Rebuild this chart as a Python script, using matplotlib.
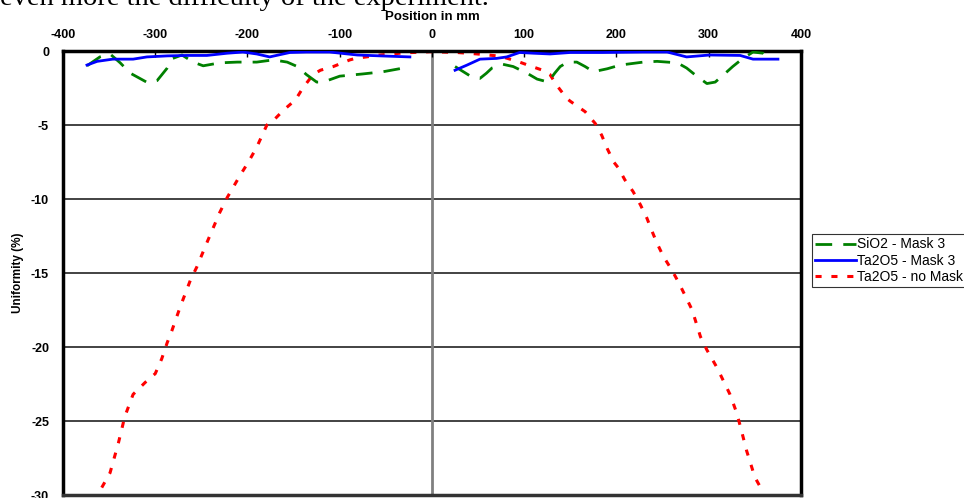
import numpy as np
import matplotlib.pyplot as plt

# SiO2 - Mask 3 (left half, then right half)
sio2_x_left = [-374, -360, -349, -338, -327, -308, -298, -287, -281, -271, -259, -248, -230, -211,
               -190, -172, -157, -146, -136, -125, -118, -100, -75, -53, -31]
sio2_y_left = [-1.0, -0.4, -0.2, -0.8, -1.5, -2.15, -2.0, -1.15, -0.5, -0.27, -0.75, -1.0, -0.8, -0.75,
               -0.75, -0.6, -0.75, -1.05, -1.6, -2.1, -2.1, -1.7, -1.55, -1.4, -1.15]
sio2_x_right = [25, 34, 43, 52, 59, 65, 77, 88, 103, 114, 126, 133, 139, 147, 157, 166, 175, 190,
                204, 229, 244, 266, 276, 287, 298, 307, 318, 326, 337, 348, 359, 366]
sio2_y_right = [-1.05, -1.4, -1.75, -1.85, -1.5, -1.15, -0.9, -1.05, -1.5, -1.9, -2.1, -1.5, -1.05,
                -0.75, -0.75, -1.05, -1.4, -1.2, -0.95, -0.75, -0.7, -0.8, -1.15, -1.7, -2.2, -2.1,
                -1.5, -1.05, -0.5, -0.07, -0.15, -0.5]

# Ta2O5 - Mask 3
ta_x_left = [-374, -363, -346, -324, -309, -287, -266, -244, -222, -205, -190, -176, -154, -136,
             -111, -81, -56, -24]
ta_y_left = [-0.95, -0.7, -0.55, -0.55, -0.4, -0.33, -0.3, -0.3, -0.15, -0.07, -0.2, -0.4, -0.1,
             -0.07, -0.07, -0.27, -0.33, -0.4]
ta_x_right = [25, 38, 52, 70, 81, 95, 110, 128, 150, 185, 229, 255, 276, 301, 334, 348, 375]
ta_y_right = [-1.3, -0.95, -0.55, -0.5, -0.4, -0.1, -0.15, -0.2, -0.1, -0.1, -0.07, -0.07, -0.4,
              -0.27, -0.3, -0.55, -0.55]

# Ta2O5 - no Mask
nomask_x = [-358, -349, -340, -333, -324, -311, -300, -293, -287, -282, -273, -262, -255, -243,
            -230, -222, -208, -199, -190, -179, -172, -161, -148, -140, -129, -121, -107, -89,
            -83, -56, -31, -2, 27, 49, 74, 95, 106, 120, 128, 135, 146, 150, 166, 177, 184, 190,
            197, 202, 209, 218, 226, 233, 238, 244, 251, 260, 267, 275, 282, 291, 298, 309, 323,
            330, 334, 341, 350, 358]
nomask_y = [-29.5, -28.5, -26.5, -24.7, -23.2, -22.4, -21.8, -20.8, -19.7, -18.9, -17.3, -15.5,
            -14.6, -12.8, -10.9, -9.9, -8.4, -7.5, -6.5, -5.0, -4.7, -4.0, -3.3, -2.5, -1.6, -1.3,
            -1.05, -0.6, -0.5, -0.27, -0.13, -0.05, -0.1, -0.2, -0.35, -0.75, -1.0, -1.3, -1.6,
            -2.3, -3.2, -3.4, -4.1, -4.9, -5.7, -6.6, -7.5, -7.9, -8.7, -9.5, -10.4, -11.3, -12.1,
            -13.0, -13.9, -14.8, -15.6, -16.6, -17.5, -19.3, -20.2, -21.4, -23.2, -24.4, -25.3,
            -27.0, -28.8, -29.7]

x_ticks = [-400, -300, -200, -100, 0, 100, 200, 300, 400]
y_ticks = [0, -5, -10, -15, -20, -25, -30]

plt.rcParams['font.family'] = ['Liberation Sans', 'DejaVu Sans']
plt.rcParams['axes.unicode_minus'] = False

fig = plt.figure(figsize=(9.64, 4.98), dpi=100)
ax = fig.add_axes([63 / 964, 3 / 498, 738 / 964, 444 / 498])

# gridlines and the centre line
for yv in y_ticks[1:-1]:
    ax.axhline(yv, color='#222222', lw=1.2, zorder=1)
ax.axvline(0, color='#808080', lw=2, zorder=1)

sio2_x = sio2_x_left + [np.nan] + sio2_x_right
sio2_y = sio2_y_left + [np.nan] + sio2_y_right
ta_x = ta_x_left + [np.nan] + ta_x_right
ta_y = ta_y_left + [np.nan] + ta_y_right

ax.plot(sio2_x, sio2_y, color='#008000', lw=2, dashes=(6, 4), label='SiO2 - Mask 3', zorder=3)
ax.plot(ta_x, ta_y, color='#0000ff', lw=2, label='Ta2O5 - Mask 3', zorder=4)
ax.plot(nomask_x, nomask_y, color='#ff0000', lw=2.2, dashes=(2, 3.2), label='Ta2O5 - no Mask', zorder=2)

ax.set_xlim(-400, 400)
ax.set_ylim(-30, 0)
ax.set_xticks(x_ticks)
ax.set_yticks(y_ticks)
ax.xaxis.tick_top()
ax.tick_params(axis='x', direction='in', length=4, width=1, pad=7.5, labelsize=9)
ax.tick_params(axis='y', length=0, pad=10, labelsize=9)
for lab in ax.get_xticklabels() + ax.get_yticklabels():
    lab.set_fontweight('bold')

for side in ['left', 'top', 'right']:
    ax.spines[side].set_linewidth(2.5)
    ax.spines[side].set_color('black')
ax.spines['bottom'].set_linewidth(2.5)
ax.spines['bottom'].set_color('#333333')

ax.set_ylabel('Uniformity (%)', fontsize=8.5, fontweight='bold')
ax.yaxis.set_label_coords(-0.053, 0.5)

fig.text(432 / 964, 1 - 16.5 / 498, 'Position in mm', ha='center', va='center',
         fontsize=9.5, fontweight='bold')

fig.text(0, 1 - 5 / 498, 'even more the difficulty of the experiment.', ha='left',
         va='baseline', family='Liberation Serif', fontsize=20.5)

leg = fig.legend(loc='upper left', bbox_to_anchor=(812 / 964, 1 - 234 / 498),
                 fontsize=10, frameon=True, fancybox=False, handlelength=2.9,
                 handletextpad=0.1, borderpad=0.25, labelspacing=0.15, borderaxespad=0)
leg.get_frame().set_edgecolor('black')
leg.get_frame().set_linewidth(0.8)

fig.savefig('out.png', dpi=100)
